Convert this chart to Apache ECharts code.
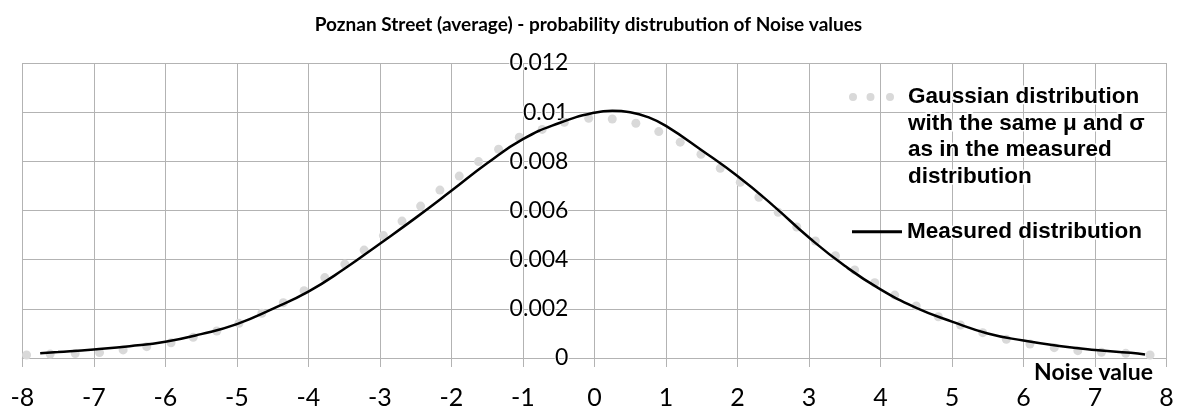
<!DOCTYPE html>
<html>
<head>
<meta charset="utf-8">
<script src="https://cdn.jsdelivr.net/npm/echarts@6/dist/echarts.min.js"></script>
<style>html,body{margin:0;padding:0;background:#fff;}#c{width:1177px;height:410px;}</style>
</head>
<body>
<div id="c"></div>
<script>
// Gaussian distribution (grey dots)
const gaussX = [-7.94, -7.61, -7.26, -6.92, -6.59, -6.26, -5.92, -5.61, -5.28, -4.97, -4.65, -4.35, -4.06, -3.77, -3.49, -3.22, -2.95, -2.69, -2.43, -2.16, -1.89, -1.62, -1.34, -1.05, -0.73, -0.42, -0.08, 0.25, 0.58, 0.90, 1.20, 1.49, 1.76, 2.04, 2.30, 2.57, 2.83, 3.09, 3.37, 3.64, 3.92, 4.20, 4.50, 4.81, 5.12, 5.43, 5.76, 6.09, 6.43, 6.76, 7.09, 7.43, 7.77];
const gaussY = [0.00012, 0.00016, 0.00018, 0.00022, 0.00033, 0.00046, 0.00062, 0.00084, 0.0011, 0.00141, 0.00182, 0.00225, 0.00274, 0.00327, 0.00382, 0.00439, 0.00498, 0.00557, 0.00618, 0.00683, 0.0074, 0.00799, 0.00849, 0.00898, 0.0093, 0.00959, 0.00975, 0.00972, 0.00955, 0.00921, 0.00878, 0.00829, 0.00772, 0.00715, 0.00654, 0.00593, 0.00533, 0.00476, 0.00416, 0.00358, 0.00306, 0.00256, 0.00212, 0.00168, 0.00134, 0.00103, 0.00076, 0.00057, 0.00042, 0.0003, 0.00023, 0.00019, 0.00012];
// Measured distribution (black line)
const measX = [-7.75, -7.5, -7, -6.5, -6, -5.5, -5, -4.5, -4, -3.5, -3, -2.5, -2, -1.5, -1, -0.5, 0, 0.25, 0.5, 0.75, 1, 1.5, 2, 2.5, 3, 3.5, 4, 4.5, 5, 5.5, 6, 6.5, 7, 7.5, 7.7];
const measY = [0.00019, 0.00024, 0.00035, 0.00048, 0.00066, 0.00097, 0.00138, 0.002, 0.0027, 0.00362, 0.00465, 0.0057, 0.0068, 0.00792, 0.0089, 0.00955, 0.00998, 0.01006, 0.01, 0.0098, 0.00944, 0.00845, 0.0074, 0.0062, 0.0049, 0.00375, 0.00279, 0.00204, 0.00148, 0.001, 0.00071, 0.00049, 0.00033, 0.00021, 0.00014];
const yTickLabels = ['0', '0.002', '0.004', '0.006', '0.008', '0.01', '0.012'];
const gaussName = 'Gaussian distribution\nwith the same μ and σ\nas in the measured\ndistribution';
const measName = 'Measured distribution';

const chart = echarts.init(document.getElementById('c'), null, {renderer: 'canvas'});
const grid = '#b3b3b3';
const gridLeft = 22.3, gridRight = 10.5;
const plotW = 1177 - gridLeft - gridRight;
const dotIcon = 'path://M0,4a4,4 0 1,0 8,0a4,4 0 1,0 -8,0Z M17.5,4a4,4 0 1,0 8,0a4,4 0 1,0 -8,0Z M37,4a4,4 0 1,0 8,0a4,4 0 1,0 -8,0Z M54,88L54,88Z';
const legendText = {fontFamily: 'Liberation Sans, Arial, sans-serif', fontWeight: 'bold', fontSize: 22.5, color: '#000', lineHeight: 26.5, textBorderColor: '#fff', textBorderWidth: 3};
chart.setOption({
  animation: false,
  title: {
    text: 'Poznan Street (average) - probability distrubution of Noise values',
    left: 'center', top: 10,
    textStyle: {fontFamily: 'Lato, sans-serif', fontWeight: 'bold', fontSize: 19, color: '#000'}
  },
  grid: {left: gridLeft, right: gridRight, top: 63, bottom: 52, containLabel: false, outerBoundsMode: 'none'},
  legend: [
    {data: [{name: gaussName, icon: dotIcon}], left: 849, top: 84, padding: 0, itemWidth: 54, itemHeight: 88, orient: 'vertical', textStyle: legendText, selectedMode: false},
    {data: [{name: measName, icon: 'rect'}], left: 852, top: 218.5, padding: 0, itemWidth: 50, itemHeight: 3, orient: 'vertical', textStyle: legendText, selectedMode: false}
  ],
  xAxis: {
    type: 'value', min: -8, max: 8, interval: 1,
    axisLine: {onZero: false, lineStyle: {color: grid, width: 1}},
    axisTick: {show: true, length: 9, lineStyle: {color: grid}},
    splitLine: {show: true, lineStyle: {color: grid, width: 1}},
    axisLabel: {fontFamily: 'Lato, sans-serif', fontSize: 25, color: '#000', margin: 27},
    name: 'Noise value', nameLocation: 'end', nameGap: -13.5,
    nameTextStyle: {fontFamily: 'Lato, sans-serif', fontWeight: 'bold', fontSize: 23, color: '#000', align: 'right', verticalAlign: 'top', padding: [3, 0, 0, 0]}
  },
  yAxis: {
    type: 'value', min: 0, max: 0.012, interval: 0.002, z: 1,
    position: 'left', offset: -plotW / 2,
    axisLine: {show: true, onZero: false, lineStyle: {color: grid, width: 1}},
    axisTick: {show: false},
    splitLine: {show: true, lineStyle: {color: grid, width: 1}},
    axisLabel: {fontFamily: 'Lato, sans-serif', fontSize: 23, color: '#000', margin: 26,
      textBorderColor: '#fff', textBorderWidth: 2,
      formatter: function (v) { return yTickLabels[Math.round(v / 0.002)]; }}
  },
  series: [
    {name: gaussName, type: 'scatter', symbol: 'circle', symbolSize: 9,
      itemStyle: {color: '#d9d9d9', opacity: 1},
      data: gaussX.map((x, i) => [x, gaussY[i]]), z: 2},
    {name: measName, type: 'line', smooth: 0.5, showSymbol: false, symbol: 'none',
      lineStyle: {color: '#000', width: 2.5}, itemStyle: {color: '#000'},
      data: measX.map((x, i) => [x, measY[i]]), z: 3}
  ]
});
</script>
</body>
</html>
